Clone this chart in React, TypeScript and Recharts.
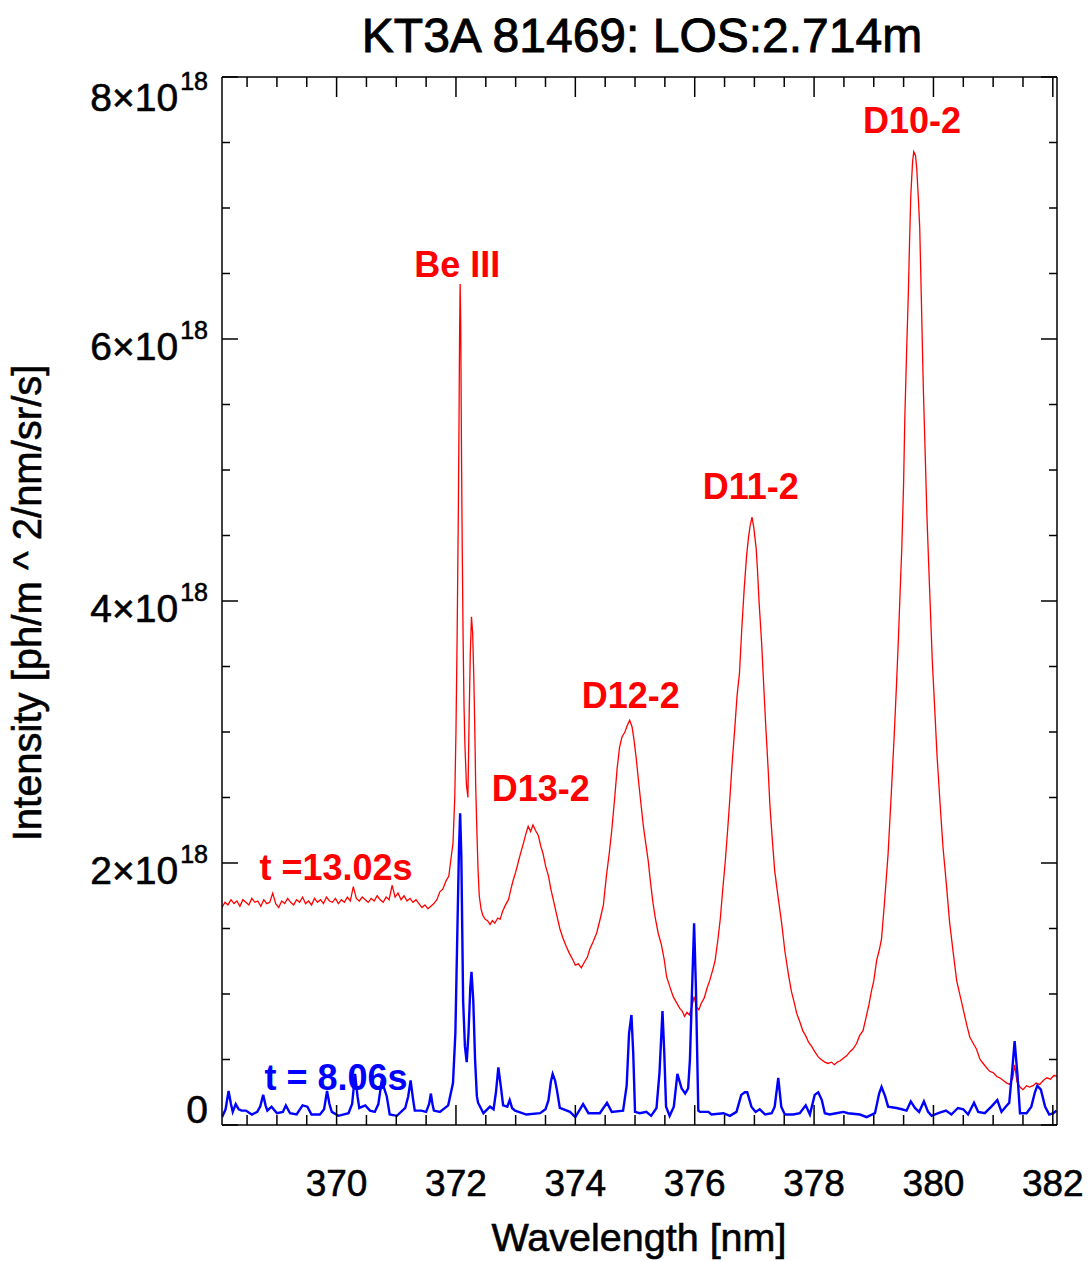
import React from 'react';
import { LineChart, Line, XAxis, YAxis, ReferenceDot } from 'recharts';

// Wavelength in nm, intensity in units of 1e18 ph/m^2/nm/sr/s
const redWavelength = [
  368.08, 368.13, 368.18, 368.23, 368.28, 368.33, 368.38, 368.43, 368.48, 368.53,
  368.58, 368.63, 368.68, 368.73, 368.78, 368.83, 368.88, 368.93, 368.98, 369.03,
  369.08, 369.13, 369.18, 369.23, 369.28, 369.33, 369.38, 369.43, 369.48, 369.53,
  369.58, 369.63, 369.68, 369.73, 369.78, 369.83, 369.88, 369.93, 369.98, 370.03,
  370.08, 370.13, 370.18, 370.23, 370.28, 370.33, 370.38, 370.43, 370.48, 370.53,
  370.58, 370.63, 370.68, 370.73, 370.78, 370.83, 370.88, 370.93, 370.98, 371.03,
  371.08, 371.13, 371.18, 371.23, 371.28, 371.33, 371.38, 371.43, 371.48, 371.53,
  371.58, 371.63, 371.68, 371.73, 371.78, 371.83, 371.88, 371.93, 371.95, 371.98,
  372.0, 372.02, 372.04, 372.05, 372.06, 372.07, 372.08, 372.09, 372.105, 372.12,
  372.135, 372.15, 372.175, 372.2, 372.22, 372.24, 372.26, 372.28, 372.3, 372.32,
  372.33, 372.35, 372.37, 372.39, 372.42, 372.45, 372.49, 372.53, 372.57, 372.61,
  372.65, 372.7, 372.74, 372.78, 372.83, 372.88, 372.92, 372.96, 373.0, 373.04,
  373.08, 373.13, 373.17, 373.21, 373.25, 373.29, 373.33, 373.38, 373.42, 373.46,
  373.5, 373.55, 373.59, 373.63, 373.68, 373.74, 373.79, 373.85, 373.9, 373.96,
  374.0, 374.05, 374.1, 374.16, 374.2, 374.24, 374.3, 374.36, 374.42, 374.47,
  374.52, 374.57, 374.61, 374.66, 374.7, 374.74, 374.78, 374.83, 374.87, 374.91,
  374.95, 374.98, 375.02, 375.06, 375.1, 375.14, 375.18, 375.22, 375.26, 375.3,
  375.34, 375.39, 375.44, 375.49, 375.53, 375.58, 375.64, 375.7, 375.75, 375.79,
  375.83, 375.87, 375.91, 375.95, 375.99, 376.03, 376.07, 376.11, 376.16, 376.21,
  376.25, 376.3, 376.34, 376.39, 376.43, 376.47, 376.51, 376.55, 376.59, 376.63,
  376.67, 376.71, 376.75, 376.79, 376.83, 376.87, 376.9, 376.93, 376.96, 376.99,
  377.01, 377.03, 377.05, 377.08, 377.12, 377.16, 377.19, 377.23, 377.26, 377.3,
  377.34, 377.4, 377.46, 377.51, 377.57, 377.62, 377.67, 377.71, 377.76, 377.81,
  377.86, 377.91, 377.96, 378.01, 378.07, 378.12, 378.18, 378.23, 378.29, 378.34,
  378.39, 378.44, 378.49, 378.55, 378.6, 378.65, 378.71, 378.76, 378.82, 378.87,
  378.92, 378.96, 379.0, 379.05, 379.09, 379.13, 379.18, 379.24, 379.29, 379.34,
  379.38, 379.41, 379.44, 379.47, 379.5, 379.52, 379.55, 379.58, 379.6, 379.62,
  379.65, 379.67, 379.7, 379.72, 379.75, 379.77, 379.8, 379.83, 379.86, 379.89,
  379.92, 379.95, 379.98, 380.02, 380.06, 380.11, 380.16, 380.22, 380.27, 380.33,
  380.39, 380.45, 380.5, 380.56, 380.61, 380.67, 380.72, 380.78, 380.85, 380.94,
  381.0, 381.06, 381.11, 381.17, 381.23, 381.28, 381.33, 381.36, 381.4, 381.45,
  381.5, 381.56, 381.61, 381.67, 381.72, 381.78, 381.84, 381.9, 381.96, 382.02,
  382.07,
];
const redIntensity = [
  1.66, 1.70, 1.68, 1.72, 1.69, 1.71, 1.67, 1.72, 1.70, 1.68,
  1.73, 1.70, 1.71, 1.67, 1.72, 1.69, 1.70, 1.77, 1.69, 1.66,
  1.71, 1.69, 1.73, 1.70, 1.68, 1.72, 1.70, 1.74, 1.69, 1.71,
  1.68, 1.73, 1.70, 1.72, 1.69, 1.74, 1.71, 1.70, 1.73, 1.69,
  1.72, 1.70, 1.74, 1.71, 1.82, 1.73, 1.71, 1.74, 1.72, 1.70,
  1.73, 1.71, 1.75, 1.72, 1.70, 1.74, 1.72, 1.83, 1.74, 1.77,
  1.72, 1.75, 1.71, 1.73, 1.70, 1.72, 1.69, 1.66, 1.68, 1.65,
  1.67, 1.69, 1.72, 1.78, 1.80, 1.86, 1.90, 2.08, 2.15, 2.50,
  3.00, 3.75, 4.70, 5.30, 6.00, 6.42, 6.10, 5.30, 4.40, 3.70,
  3.20, 2.90, 2.60, 2.50, 3.10, 3.60, 3.88, 3.75, 3.40, 2.90,
  2.60, 2.25, 1.95, 1.75, 1.65, 1.60, 1.57, 1.56, 1.53, 1.56,
  1.54, 1.58, 1.57, 1.63, 1.68, 1.72, 1.80, 1.87, 1.93, 2.00,
  2.07, 2.15, 2.22, 2.28, 2.24, 2.29, 2.25, 2.21, 2.13, 2.07,
  1.98, 1.90, 1.80, 1.72, 1.62, 1.50, 1.43, 1.36, 1.31, 1.26,
  1.22, 1.23, 1.20, 1.25, 1.28, 1.34, 1.40, 1.47, 1.58, 1.68,
  1.90, 2.08, 2.25, 2.50, 2.72, 2.88, 2.96, 3.00, 3.05, 3.09,
  3.04, 2.95, 2.80, 2.62, 2.45, 2.28, 2.15, 2.02, 1.85, 1.70,
  1.58, 1.46, 1.38, 1.26, 1.13, 1.06, 0.98, 0.93, 0.89, 0.87,
  0.83, 0.86, 0.84, 0.90, 0.98, 0.90, 0.88, 0.93, 0.97, 1.05,
  1.10, 1.18, 1.25, 1.42, 1.58, 1.80, 2.00, 2.24, 2.50, 2.78,
  3.02, 3.28, 3.45, 3.80, 4.10, 4.35, 4.48, 4.58, 4.64, 4.56,
  4.48, 4.40, 4.25, 3.98, 3.69, 3.32, 3.05, 2.72, 2.44, 2.18,
  1.94, 1.73, 1.53, 1.33, 1.15, 1.02, 0.93, 0.85, 0.79, 0.72,
  0.68, 0.63, 0.60, 0.56, 0.52, 0.50, 0.48, 0.47, 0.48, 0.46,
  0.48, 0.49, 0.51, 0.53, 0.56, 0.58, 0.62, 0.68, 0.72, 0.82,
  0.92, 1.02, 1.10, 1.26, 1.33, 1.42, 1.70, 2.07, 2.50, 2.95,
  3.35, 3.68, 4.05, 4.41, 4.90, 5.39, 5.90, 6.36, 6.75, 7.09,
  7.35, 7.43, 7.40, 7.30, 7.05, 6.85, 6.25, 5.63, 5.15, 4.66,
  4.28, 3.92, 3.55, 3.19, 2.82, 2.46, 2.12, 1.82, 1.55, 1.32,
  1.10, 0.98, 0.88, 0.76, 0.67, 0.62, 0.58, 0.50, 0.46, 0.41,
  0.40, 0.37, 0.36, 0.34, 0.32, 0.31, 0.36, 0.46, 0.33, 0.29,
  0.27, 0.30, 0.29, 0.30, 0.32, 0.31, 0.34, 0.36, 0.35, 0.38,
  0.37,
];

const blueWavelength = [
  368.08, 368.14, 368.19, 368.23, 368.26, 368.31, 368.36, 368.41, 368.48, 368.58,
  368.67, 368.72, 368.77, 368.81, 368.84, 368.91, 369.0, 369.1, 369.15, 369.22,
  369.33, 369.43, 369.51, 369.58, 369.72, 369.79, 369.84, 369.88, 369.92, 370.03,
  370.2, 370.26, 370.31, 370.35, 370.38, 370.48, 370.56, 370.64, 370.7, 370.75,
  370.79, 370.84, 370.89, 371.01, 371.15, 371.2, 371.24, 371.28, 371.31, 371.42,
  371.5, 371.55, 371.58, 371.61, 371.63, 371.73, 371.87, 371.95, 371.99, 372.02,
  372.05, 372.07, 372.09, 372.12, 372.15, 372.18, 372.21, 372.24, 372.26, 372.29,
  372.32, 372.35, 372.37, 372.46, 372.57, 372.63, 372.67, 372.71, 372.75, 372.79,
  372.86, 372.9, 372.94, 372.99, 373.18, 373.41, 373.5, 373.55, 373.59, 373.62,
  373.66, 373.69, 373.74, 373.91, 374.0, 374.13, 374.22, 374.41, 374.53, 374.61,
  374.8, 374.86, 374.9, 374.94, 374.97, 375.0, 375.08, 375.19, 375.27, 375.36,
  375.41, 375.46, 375.49, 375.52, 375.58, 375.65, 375.71, 375.78, 375.84, 375.89,
  375.92, 375.96, 375.99, 376.02, 376.06, 376.09, 376.23, 376.28, 376.48, 376.59,
  376.7, 376.78, 376.84, 376.88, 376.95, 377.02, 377.09, 377.18, 377.29, 377.34,
  377.4, 377.45, 377.51, 377.65, 377.76, 377.86, 377.93, 378.01, 378.07, 378.13,
  378.18, 378.26, 378.37, 378.49, 378.57, 378.77, 378.88, 379.02, 379.09, 379.13,
  379.19, 379.24, 379.38, 379.47, 379.55, 379.62, 379.69, 379.76, 379.84, 379.91,
  379.97, 380.08, 380.21, 380.3, 380.41, 380.5, 380.58, 380.68, 380.75, 380.86,
  380.97, 381.07, 381.14, 381.21, 381.27, 381.32, 381.36, 381.41, 381.45, 381.56,
  381.64, 381.7, 381.74, 381.8, 381.87, 381.94, 382.01, 382.06,
];
const blueIntensity = [
  0.06, 0.12, 0.26, 0.16, 0.10, 0.16, 0.12, 0.11, 0.11, 0.08,
  0.10, 0.14, 0.23, 0.15, 0.11, 0.14, 0.09, 0.10, 0.15, 0.09,
  0.08, 0.15, 0.14, 0.08, 0.08, 0.12, 0.26, 0.16, 0.10, 0.07,
  0.09, 0.16, 0.39, 0.22, 0.13, 0.15, 0.11, 0.10, 0.16, 0.32,
  0.29, 0.22, 0.08, 0.07, 0.13, 0.22, 0.34, 0.20, 0.11, 0.11,
  0.10, 0.16, 0.24, 0.15, 0.11, 0.10, 0.15, 0.32, 0.70, 1.40,
  2.10, 2.38, 2.05, 0.95, 0.60, 0.48, 0.70, 1.05, 1.17, 0.95,
  0.50, 0.22, 0.17, 0.09, 0.14, 0.12, 0.25, 0.44, 0.30, 0.15,
  0.14, 0.19, 0.13, 0.11, 0.08, 0.09, 0.12, 0.19, 0.33, 0.39,
  0.34, 0.27, 0.13, 0.10, 0.06, 0.16, 0.09, 0.09, 0.17, 0.10,
  0.11, 0.30, 0.70, 0.84, 0.55, 0.10, 0.09, 0.10, 0.07, 0.13,
  0.40, 0.87, 0.55, 0.14, 0.07, 0.14, 0.39, 0.28, 0.24, 0.28,
  0.50, 1.10, 1.54, 1.05, 0.11, 0.10, 0.10, 0.08, 0.09, 0.07,
  0.10, 0.23, 0.25, 0.25, 0.14, 0.10, 0.12, 0.08, 0.09, 0.14,
  0.36, 0.14, 0.08, 0.08, 0.09, 0.15, 0.08, 0.23, 0.25, 0.19,
  0.09, 0.08, 0.09, 0.10, 0.09, 0.08, 0.06, 0.09, 0.24, 0.29,
  0.22, 0.14, 0.13, 0.12, 0.11, 0.18, 0.13, 0.10, 0.18, 0.10,
  0.07, 0.09, 0.11, 0.08, 0.13, 0.12, 0.08, 0.17, 0.10, 0.09,
  0.14, 0.19, 0.10, 0.14, 0.17, 0.42, 0.64, 0.37, 0.09, 0.09,
  0.14, 0.25, 0.30, 0.27, 0.14, 0.08, 0.09, 0.11,
];

// Axis ticks: minor every 0.5 nm / 0.5e18, labelled majors
const xTicks = [
  368.5, 369, 369.5, 370, 370.5, 371, 371.5, 372, 372.5, 373, 373.5, 374, 374.5,
  375, 375.5, 376, 376.5, 377, 377.5, 378, 378.5, 379, 379.5, 380, 380.5, 381, 381.5, 382,
];
const xMajorTicks = [370, 372, 374, 376, 378, 380, 382];
const yTicks = [0, 0.5, 1, 1.5, 2, 2.5, 3, 3.5, 4, 4.5, 5, 5.5, 6, 6.5, 7, 7.5, 8];
const yMajorTicks = [0, 2, 4, 6, 8];

// Peak annotations (anchor = text centre / baseline in data coordinates)
const peakLabels = [
  { text: 'Be III', x: 372.02, y: 6.47 },
  { text: 'D13-2', x: 373.42, y: 2.47 },
  { text: 'D12-2', x: 374.93, y: 3.18 },
  { text: 'D11-2', x: 376.94, y: 4.78 },
  { text: 'D10-2', x: 379.64, y: 7.57 },
];
const seriesLabels = [
  { text: 't =13.02s', x: 369.99, y: 1.87, color: '#ff0000' },
  { text: 't = 8.06s', x: 369.99, y: 0.27, color: '#0000ff' },
];

const X_DOMAIN: [number, number] = [368.08, 382.07];
const Y_DOMAIN: [number, number] = [0, 8];
const FONT = '"Liberation Sans", Arial, Helvetica, sans-serif';
const RED = '#ff0000';
const BLUE = '#0000ff';

const redData = redWavelength.map((x, i) => ({ x, y: redIntensity[i] }));
const blueData = blueWavelength.map((x, i) => ({ x, y: blueIntensity[i] }));

const PLOT_TOP = 77;
const PLOT_BOTTOM = 1125;

// black text is drawn with a thin outline for a heavier stroke
const inkText = { fill: '#000', stroke: '#000', strokeWidth: 0.6, fontFamily: FONT };

const BottomTick = (props: any) => {
  const { x, y, payload } = props;
  const major = xMajorTicks.includes(payload.value);
  return (
    <g>
      <line x1={x} x2={x} y1={y} y2={y - (major ? 20 : 10)} stroke="#000" strokeWidth={1.5} />
      {major && (
        <text x={x} y={y + 71} textAnchor="middle" fontSize={37} {...inkText}>
          {payload.value}
        </text>
      )}
    </g>
  );
};

const TopTick = (props: any) => {
  const { x, y, payload } = props;
  const major = xMajorTicks.includes(payload.value);
  return <line x1={x} x2={x} y1={y} y2={y + (major ? 20 : 10)} stroke="#000" strokeWidth={1.5} />;
};

const LeftTick = (props: any) => {
  const { x, y, payload } = props;
  const v = payload.value;
  const major = yMajorTicks.includes(v);
  let label: React.ReactNode = null;
  if (major) {
    if (v === 0) {
      label = (
        <text x={x - 14} y={Math.min(y + 13, PLOT_BOTTOM - 2)} textAnchor="end" fontSize={39} {...inkText}>
          0
        </text>
      );
    } else {
      label = (
        <text x={x - 14} y={Math.max(y + 21, PLOT_TOP + 34)} textAnchor="end" fontSize={39} {...inkText}>
          {`${v}\u00d710`}
          <tspan dx={2} dy={-21} fontSize={25}>18</tspan>
        </text>
      );
    }
  }
  return (
    <g>
      <line x1={x} x2={x + (major ? 16 : 8)} y1={y} y2={y} stroke="#000" strokeWidth={1.5} />
      {label}
    </g>
  );
};

const RightTick = (props: any) => {
  const { x, y, payload } = props;
  const major = yMajorTicks.includes(payload.value);
  return <line x1={x} x2={x - (major ? 16 : 8)} y1={y} y2={y} stroke="#000" strokeWidth={1.5} />;
};

const makeTextShape = (text: string, color: string) => (props: any) => (
  <text x={props.cx} y={props.cy} textAnchor="middle" fontSize={36} fontWeight="bold" fontFamily={FONT} fill={color}>
    {text}
  </text>
);

const axisLine = { stroke: '#000', strokeWidth: 1.5 };

export default function App() {
  return (
    <div style={{ position: 'absolute', left: 0, top: 0, width: 1092, height: 1262, background: '#fff' }}>
      <LineChart
        width={1092}
        height={1262}
        margin={{ top: PLOT_TOP - 1, right: 34, bottom: 17, left: 22 }}
      >
        <XAxis
          xAxisId="b"
          dataKey="x"
          type="number"
          domain={X_DOMAIN}
          allowDataOverflow
          ticks={xTicks}
          interval={0}
          height={120}
          tickSize={0}
          tickMargin={0}
          tickLine={false}
          axisLine={axisLine}
          tick={<BottomTick />}
        />
        <XAxis
          xAxisId="t"
          orientation="top"
          dataKey="x"
          type="number"
          domain={X_DOMAIN}
          allowDataOverflow
          ticks={xTicks}
          interval={0}
          height={1}
          tickSize={0}
          tickMargin={0}
          tickLine={false}
          axisLine={axisLine}
          tick={<TopTick />}
        />
        <YAxis
          yAxisId="l"
          type="number"
          domain={Y_DOMAIN}
          allowDataOverflow
          ticks={yTicks}
          interval={0}
          width={200}
          tickSize={0}
          tickMargin={0}
          tickLine={false}
          axisLine={axisLine}
          tick={<LeftTick />}
        />
        <YAxis
          yAxisId="r"
          orientation="right"
          type="number"
          domain={Y_DOMAIN}
          allowDataOverflow
          ticks={yTicks}
          interval={0}
          width={1}
          tickSize={0}
          tickMargin={0}
          tickLine={false}
          axisLine={axisLine}
          tick={<RightTick />}
        />
        <Line
          xAxisId="b"
          yAxisId="l"
          data={redData}
          dataKey="y"
          type="linear"
          stroke={RED}
          strokeWidth={1.3}
          dot={false}
          isAnimationActive={false}
        />
        <Line
          xAxisId="b"
          yAxisId="l"
          data={blueData}
          dataKey="y"
          type="linear"
          stroke={BLUE}
          strokeWidth={2.4}
          dot={false}
          isAnimationActive={false}
        />
        {peakLabels.map((p) => (
          <ReferenceDot
            key={p.text}
            xAxisId="b"
            yAxisId="l"
            x={p.x}
            y={p.y}
            r={0}
            ifOverflow="visible"
            shape={makeTextShape(p.text, RED)}
          />
        ))}
        {seriesLabels.map((p) => (
          <ReferenceDot
            key={p.text}
            xAxisId="b"
            yAxisId="l"
            x={p.x}
            y={p.y}
            r={0}
            ifOverflow="visible"
            shape={makeTextShape(p.text, p.color)}
          />
        ))}
      </LineChart>
      <svg
        width={1092}
        height={1262}
        style={{ position: 'absolute', left: 0, top: 0, pointerEvents: 'none' }}
      >
        <text x={642} y={52} textAnchor="middle" fontSize={48} {...inkText} strokeWidth={0.9}>
          KT3A 81469: LOS:2.714m
        </text>
        <text x={639} y={1251} textAnchor="middle" fontSize={39.5} {...inkText}>
          Wavelength [nm]
        </text>
        <text
          transform="translate(41, 603) rotate(-90)"
          textAnchor="middle"
          fontSize={40}
          {...inkText}
        >
          Intensity [ph/m ^ 2/nm/sr/s]
        </text>
      </svg>
    </div>
  );
}
